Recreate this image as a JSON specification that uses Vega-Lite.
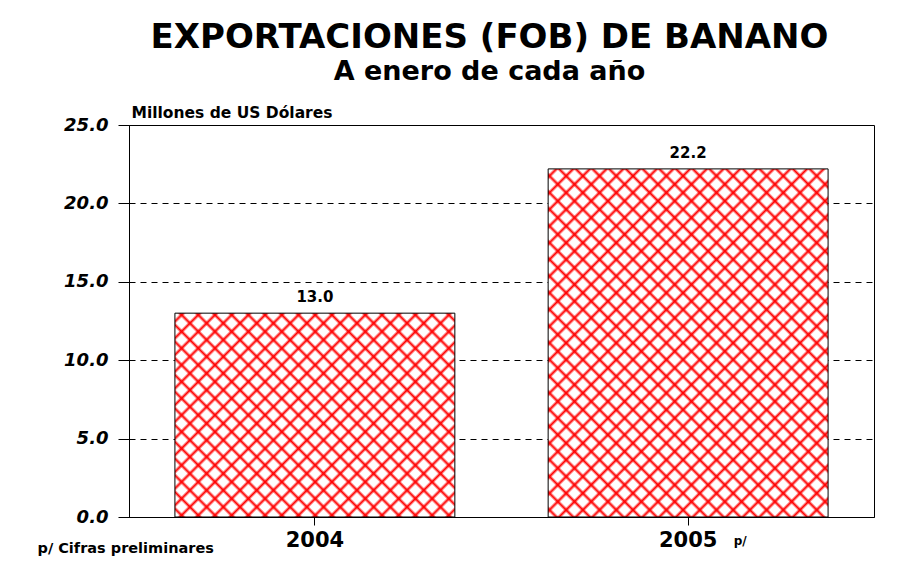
{
  "$schema": "https://vega.github.io/schema/vega-lite/v6.json",
  "width": 745,
  "height": 392,
  "autosize": "none",
  "padding": {"left": 129, "top": 125, "right": 49, "bottom": 60},
  "background": "white",
  "data": {
    "values": [
      {"year": "2004", "value": 13.0},
      {"year": "2005", "value": 22.2}
    ]
  },
  "title": {
    "text": "EXPORTACIONES (FOB) DE BANANO",
    "subtitle": "A enero de cada año",
    "anchor": "middle",
    "frame": "group",
    "dx": -12,
    "offset": 20,
    "font": "DejaVu Sans",
    "fontSize": 34,
    "fontWeight": "bold",
    "color": "black",
    "subtitleFont": "DejaVu Sans",
    "subtitleFontSize": 27,
    "subtitleFontWeight": "bold",
    "subtitleColor": "black",
    "subtitlePadding": 4
  },
  "config": {
    "view": {"stroke": "black", "strokeWidth": 1},
    "axis": {"labelFont": "DejaVu Sans", "titleFont": "DejaVu Sans", "labelColor": "black", "titleColor": "black"}
  },
  "layer": [
    {
      "mark": {"type": "bar", "strokeWidth": 0},
      "encoding": {
        "x": {
          "field": "year",
          "type": "nominal",
          "sort": null,
          "scale": {"paddingInner": 0.25, "paddingOuter": 0.123},
          "axis": {
            "labelAngle": 0,
            "labelFontSize": 21,
            "labelFontWeight": "bold",
            "labelPadding": 4,
            "tickSize": 8,
            "tickColor": "black",
            "domainColor": "black",
            "grid": false,
            "title": "p/ Cifras preliminares",
            "titleFontSize": 14.5,
            "titleFontWeight": "bold",
            "titleAlign": "left",
            "titleBaseline": "alphabetic",
            "titleX": -92,
            "titleY": 35
          }
        },
        "y": {
          "field": "value",
          "type": "quantitative",
          "scale": {"domain": [0, 25], "nice": false},
          "axis": {
            "values": [0, 5, 10, 15, 20, 25],
            "format": ".1f",
            "labelFontSize": 18,
            "labelFontWeight": "bold",
            "labelFontStyle": "italic",
            "labelPadding": 10,
            "tickSize": 11,
            "tickColor": "black",
            "domainColor": "black",
            "grid": true,
            "gridColor": "black",
            "gridDash": [6, 5],
            "gridWidth": 1,
            "title": "Millones de US Dólares",
            "titleAngle": 0,
            "titleFontSize": 15.5,
            "titleFontWeight": "bold",
            "titleAlign": "left",
            "titleBaseline": "alphabetic",
            "titleX": 2,
            "titleY": -8
          }
        },
        "fill": {
          "condition": {
            "test": "datum.year === '2004'",
            "value": {
              "gradient": "linear", "x1": 0, "y1": 0, "x2": 1.1294, "y2": 0.8223,
              "stops": [
                {"offset": 0.0107, "color": "#fff"}, {"offset": 0.0173, "color": "#f00"}, {"offset": 0.0239, "color": "#fff"},
                {"offset": 0.0452, "color": "#fff"}, {"offset": 0.0518, "color": "#f00"}, {"offset": 0.0584, "color": "#fff"},
                {"offset": 0.0797, "color": "#fff"}, {"offset": 0.0863, "color": "#f00"}, {"offset": 0.0929, "color": "#fff"},
                {"offset": 0.1142, "color": "#fff"}, {"offset": 0.1208, "color": "#f00"}, {"offset": 0.1274, "color": "#fff"},
                {"offset": 0.1488, "color": "#fff"}, {"offset": 0.1554, "color": "#f00"}, {"offset": 0.1620, "color": "#fff"},
                {"offset": 0.1833, "color": "#fff"}, {"offset": 0.1899, "color": "#f00"}, {"offset": 0.1965, "color": "#fff"},
                {"offset": 0.2178, "color": "#fff"}, {"offset": 0.2244, "color": "#f00"}, {"offset": 0.2310, "color": "#fff"},
                {"offset": 0.2524, "color": "#fff"}, {"offset": 0.2590, "color": "#f00"}, {"offset": 0.2656, "color": "#fff"},
                {"offset": 0.2869, "color": "#fff"}, {"offset": 0.2935, "color": "#f00"}, {"offset": 0.3001, "color": "#fff"},
                {"offset": 0.3214, "color": "#fff"}, {"offset": 0.3280, "color": "#f00"}, {"offset": 0.3346, "color": "#fff"},
                {"offset": 0.3559, "color": "#fff"}, {"offset": 0.3625, "color": "#f00"}, {"offset": 0.3691, "color": "#fff"},
                {"offset": 0.3905, "color": "#fff"}, {"offset": 0.3971, "color": "#f00"}, {"offset": 0.4037, "color": "#fff"},
                {"offset": 0.4250, "color": "#fff"}, {"offset": 0.4316, "color": "#f00"}, {"offset": 0.4382, "color": "#fff"},
                {"offset": 0.4595, "color": "#fff"}, {"offset": 0.4661, "color": "#f00"}, {"offset": 0.4727, "color": "#fff"},
                {"offset": 0.4940, "color": "#fff"}, {"offset": 0.5006, "color": "#f00"}, {"offset": 0.5072, "color": "#fff"},
                {"offset": 0.5286, "color": "#fff"}, {"offset": 0.5352, "color": "#f00"}, {"offset": 0.5418, "color": "#fff"},
                {"offset": 0.5631, "color": "#fff"}, {"offset": 0.5697, "color": "#f00"}, {"offset": 0.5763, "color": "#fff"},
                {"offset": 0.5976, "color": "#fff"}, {"offset": 0.6042, "color": "#f00"}, {"offset": 0.6108, "color": "#fff"},
                {"offset": 0.6321, "color": "#fff"}, {"offset": 0.6387, "color": "#f00"}, {"offset": 0.6453, "color": "#fff"},
                {"offset": 0.6667, "color": "#fff"}, {"offset": 0.6733, "color": "#f00"}, {"offset": 0.6799, "color": "#fff"},
                {"offset": 0.7012, "color": "#fff"}, {"offset": 0.7078, "color": "#f00"}, {"offset": 0.7144, "color": "#fff"},
                {"offset": 0.7357, "color": "#fff"}, {"offset": 0.7423, "color": "#f00"}, {"offset": 0.7489, "color": "#fff"},
                {"offset": 0.7702, "color": "#fff"}, {"offset": 0.7768, "color": "#f00"}, {"offset": 0.7834, "color": "#fff"},
                {"offset": 0.8048, "color": "#fff"}, {"offset": 0.8114, "color": "#f00"}, {"offset": 0.8180, "color": "#fff"},
                {"offset": 0.8393, "color": "#fff"}, {"offset": 0.8459, "color": "#f00"}, {"offset": 0.8525, "color": "#fff"},
                {"offset": 0.8738, "color": "#fff"}, {"offset": 0.8804, "color": "#f00"}, {"offset": 0.8870, "color": "#fff"},
                {"offset": 0.9083, "color": "#fff"}, {"offset": 0.9149, "color": "#f00"}, {"offset": 0.9215, "color": "#fff"},
                {"offset": 0.9429, "color": "#fff"}, {"offset": 0.9495, "color": "#f00"}, {"offset": 0.9561, "color": "#fff"},
                {"offset": 0.9774, "color": "#fff"}, {"offset": 0.9840, "color": "#f00"}, {"offset": 0.9906, "color": "#fff"}
              ]
            }
          },
          "value": {
            "gradient": "linear", "x1": 0, "y1": 0, "x2": 0.8810, "y2": 1.0957,
            "stops": [
              {"offset": 0.0082, "color": "#fff"}, {"offset": 0.0133, "color": "#f00"}, {"offset": 0.0184, "color": "#fff"},
              {"offset": 0.0348, "color": "#fff"}, {"offset": 0.0399, "color": "#f00"}, {"offset": 0.0450, "color": "#fff"},
              {"offset": 0.0614, "color": "#fff"}, {"offset": 0.0665, "color": "#f00"}, {"offset": 0.0716, "color": "#fff"},
              {"offset": 0.0880, "color": "#fff"}, {"offset": 0.0931, "color": "#f00"}, {"offset": 0.0982, "color": "#fff"},
              {"offset": 0.1146, "color": "#fff"}, {"offset": 0.1197, "color": "#f00"}, {"offset": 0.1248, "color": "#fff"},
              {"offset": 0.1412, "color": "#fff"}, {"offset": 0.1463, "color": "#f00"}, {"offset": 0.1514, "color": "#fff"},
              {"offset": 0.1678, "color": "#fff"}, {"offset": 0.1729, "color": "#f00"}, {"offset": 0.1780, "color": "#fff"},
              {"offset": 0.1943, "color": "#fff"}, {"offset": 0.1994, "color": "#f00"}, {"offset": 0.2045, "color": "#fff"},
              {"offset": 0.2209, "color": "#fff"}, {"offset": 0.2260, "color": "#f00"}, {"offset": 0.2311, "color": "#fff"},
              {"offset": 0.2475, "color": "#fff"}, {"offset": 0.2526, "color": "#f00"}, {"offset": 0.2577, "color": "#fff"},
              {"offset": 0.2741, "color": "#fff"}, {"offset": 0.2792, "color": "#f00"}, {"offset": 0.2843, "color": "#fff"},
              {"offset": 0.3007, "color": "#fff"}, {"offset": 0.3058, "color": "#f00"}, {"offset": 0.3109, "color": "#fff"},
              {"offset": 0.3273, "color": "#fff"}, {"offset": 0.3324, "color": "#f00"}, {"offset": 0.3375, "color": "#fff"},
              {"offset": 0.3539, "color": "#fff"}, {"offset": 0.3590, "color": "#f00"}, {"offset": 0.3641, "color": "#fff"},
              {"offset": 0.3805, "color": "#fff"}, {"offset": 0.3856, "color": "#f00"}, {"offset": 0.3907, "color": "#fff"},
              {"offset": 0.4071, "color": "#fff"}, {"offset": 0.4122, "color": "#f00"}, {"offset": 0.4173, "color": "#fff"},
              {"offset": 0.4337, "color": "#fff"}, {"offset": 0.4388, "color": "#f00"}, {"offset": 0.4439, "color": "#fff"},
              {"offset": 0.4603, "color": "#fff"}, {"offset": 0.4654, "color": "#f00"}, {"offset": 0.4705, "color": "#fff"},
              {"offset": 0.4869, "color": "#fff"}, {"offset": 0.4920, "color": "#f00"}, {"offset": 0.4971, "color": "#fff"},
              {"offset": 0.5134, "color": "#fff"}, {"offset": 0.5185, "color": "#f00"}, {"offset": 0.5236, "color": "#fff"},
              {"offset": 0.5400, "color": "#fff"}, {"offset": 0.5451, "color": "#f00"}, {"offset": 0.5502, "color": "#fff"},
              {"offset": 0.5666, "color": "#fff"}, {"offset": 0.5717, "color": "#f00"}, {"offset": 0.5768, "color": "#fff"},
              {"offset": 0.5932, "color": "#fff"}, {"offset": 0.5983, "color": "#f00"}, {"offset": 0.6034, "color": "#fff"},
              {"offset": 0.6198, "color": "#fff"}, {"offset": 0.6249, "color": "#f00"}, {"offset": 0.6300, "color": "#fff"},
              {"offset": 0.6464, "color": "#fff"}, {"offset": 0.6515, "color": "#f00"}, {"offset": 0.6566, "color": "#fff"},
              {"offset": 0.6730, "color": "#fff"}, {"offset": 0.6781, "color": "#f00"}, {"offset": 0.6832, "color": "#fff"},
              {"offset": 0.6996, "color": "#fff"}, {"offset": 0.7047, "color": "#f00"}, {"offset": 0.7098, "color": "#fff"},
              {"offset": 0.7262, "color": "#fff"}, {"offset": 0.7313, "color": "#f00"}, {"offset": 0.7364, "color": "#fff"},
              {"offset": 0.7528, "color": "#fff"}, {"offset": 0.7579, "color": "#f00"}, {"offset": 0.7630, "color": "#fff"},
              {"offset": 0.7794, "color": "#fff"}, {"offset": 0.7845, "color": "#f00"}, {"offset": 0.7896, "color": "#fff"},
              {"offset": 0.8060, "color": "#fff"}, {"offset": 0.8111, "color": "#f00"}, {"offset": 0.8162, "color": "#fff"},
              {"offset": 0.8326, "color": "#fff"}, {"offset": 0.8377, "color": "#f00"}, {"offset": 0.8428, "color": "#fff"},
              {"offset": 0.8591, "color": "#fff"}, {"offset": 0.8642, "color": "#f00"}, {"offset": 0.8693, "color": "#fff"},
              {"offset": 0.8857, "color": "#fff"}, {"offset": 0.8908, "color": "#f00"}, {"offset": 0.8959, "color": "#fff"},
              {"offset": 0.9123, "color": "#fff"}, {"offset": 0.9174, "color": "#f00"}, {"offset": 0.9225, "color": "#fff"},
              {"offset": 0.9389, "color": "#fff"}, {"offset": 0.9440, "color": "#f00"}, {"offset": 0.9491, "color": "#fff"},
              {"offset": 0.9655, "color": "#fff"}, {"offset": 0.9706, "color": "#f00"}, {"offset": 0.9757, "color": "#fff"}
            ]
          }
        }
      }
    },
    {
      "mark": {"type": "bar", "stroke": "black", "strokeWidth": 1},
      "encoding": {
        "x": {"field": "year", "type": "nominal", "sort": null, "axis": null},
        "y": {"field": "value", "type": "quantitative", "axis": null},
        "fill": {
          "condition": {
            "test": "datum.year === '2004'",
            "value": {
              "gradient": "linear", "x1": 0, "y1": 1, "x2": 1.1294, "y2": 0.1777,
              "stops": [
                {"offset": 0.0107, "color": "rgba(255,0,0,0)"}, {"offset": 0.0173, "color": "#f00"}, {"offset": 0.0239, "color": "rgba(255,0,0,0)"},
                {"offset": 0.0452, "color": "rgba(255,0,0,0)"}, {"offset": 0.0518, "color": "#f00"}, {"offset": 0.0584, "color": "rgba(255,0,0,0)"},
                {"offset": 0.0797, "color": "rgba(255,0,0,0)"}, {"offset": 0.0863, "color": "#f00"}, {"offset": 0.0929, "color": "rgba(255,0,0,0)"},
                {"offset": 0.1142, "color": "rgba(255,0,0,0)"}, {"offset": 0.1208, "color": "#f00"}, {"offset": 0.1274, "color": "rgba(255,0,0,0)"},
                {"offset": 0.1488, "color": "rgba(255,0,0,0)"}, {"offset": 0.1554, "color": "#f00"}, {"offset": 0.1620, "color": "rgba(255,0,0,0)"},
                {"offset": 0.1833, "color": "rgba(255,0,0,0)"}, {"offset": 0.1899, "color": "#f00"}, {"offset": 0.1965, "color": "rgba(255,0,0,0)"},
                {"offset": 0.2178, "color": "rgba(255,0,0,0)"}, {"offset": 0.2244, "color": "#f00"}, {"offset": 0.2310, "color": "rgba(255,0,0,0)"},
                {"offset": 0.2524, "color": "rgba(255,0,0,0)"}, {"offset": 0.2590, "color": "#f00"}, {"offset": 0.2656, "color": "rgba(255,0,0,0)"},
                {"offset": 0.2869, "color": "rgba(255,0,0,0)"}, {"offset": 0.2935, "color": "#f00"}, {"offset": 0.3001, "color": "rgba(255,0,0,0)"},
                {"offset": 0.3214, "color": "rgba(255,0,0,0)"}, {"offset": 0.3280, "color": "#f00"}, {"offset": 0.3346, "color": "rgba(255,0,0,0)"},
                {"offset": 0.3559, "color": "rgba(255,0,0,0)"}, {"offset": 0.3625, "color": "#f00"}, {"offset": 0.3691, "color": "rgba(255,0,0,0)"},
                {"offset": 0.3905, "color": "rgba(255,0,0,0)"}, {"offset": 0.3971, "color": "#f00"}, {"offset": 0.4037, "color": "rgba(255,0,0,0)"},
                {"offset": 0.4250, "color": "rgba(255,0,0,0)"}, {"offset": 0.4316, "color": "#f00"}, {"offset": 0.4382, "color": "rgba(255,0,0,0)"},
                {"offset": 0.4595, "color": "rgba(255,0,0,0)"}, {"offset": 0.4661, "color": "#f00"}, {"offset": 0.4727, "color": "rgba(255,0,0,0)"},
                {"offset": 0.4940, "color": "rgba(255,0,0,0)"}, {"offset": 0.5006, "color": "#f00"}, {"offset": 0.5072, "color": "rgba(255,0,0,0)"},
                {"offset": 0.5286, "color": "rgba(255,0,0,0)"}, {"offset": 0.5352, "color": "#f00"}, {"offset": 0.5418, "color": "rgba(255,0,0,0)"},
                {"offset": 0.5631, "color": "rgba(255,0,0,0)"}, {"offset": 0.5697, "color": "#f00"}, {"offset": 0.5763, "color": "rgba(255,0,0,0)"},
                {"offset": 0.5976, "color": "rgba(255,0,0,0)"}, {"offset": 0.6042, "color": "#f00"}, {"offset": 0.6108, "color": "rgba(255,0,0,0)"},
                {"offset": 0.6321, "color": "rgba(255,0,0,0)"}, {"offset": 0.6387, "color": "#f00"}, {"offset": 0.6453, "color": "rgba(255,0,0,0)"},
                {"offset": 0.6667, "color": "rgba(255,0,0,0)"}, {"offset": 0.6733, "color": "#f00"}, {"offset": 0.6799, "color": "rgba(255,0,0,0)"},
                {"offset": 0.7012, "color": "rgba(255,0,0,0)"}, {"offset": 0.7078, "color": "#f00"}, {"offset": 0.7144, "color": "rgba(255,0,0,0)"},
                {"offset": 0.7357, "color": "rgba(255,0,0,0)"}, {"offset": 0.7423, "color": "#f00"}, {"offset": 0.7489, "color": "rgba(255,0,0,0)"},
                {"offset": 0.7702, "color": "rgba(255,0,0,0)"}, {"offset": 0.7768, "color": "#f00"}, {"offset": 0.7834, "color": "rgba(255,0,0,0)"},
                {"offset": 0.8048, "color": "rgba(255,0,0,0)"}, {"offset": 0.8114, "color": "#f00"}, {"offset": 0.8180, "color": "rgba(255,0,0,0)"},
                {"offset": 0.8393, "color": "rgba(255,0,0,0)"}, {"offset": 0.8459, "color": "#f00"}, {"offset": 0.8525, "color": "rgba(255,0,0,0)"},
                {"offset": 0.8738, "color": "rgba(255,0,0,0)"}, {"offset": 0.8804, "color": "#f00"}, {"offset": 0.8870, "color": "rgba(255,0,0,0)"},
                {"offset": 0.9083, "color": "rgba(255,0,0,0)"}, {"offset": 0.9149, "color": "#f00"}, {"offset": 0.9215, "color": "rgba(255,0,0,0)"},
                {"offset": 0.9429, "color": "rgba(255,0,0,0)"}, {"offset": 0.9495, "color": "#f00"}, {"offset": 0.9561, "color": "rgba(255,0,0,0)"},
                {"offset": 0.9774, "color": "rgba(255,0,0,0)"}, {"offset": 0.9840, "color": "#f00"}, {"offset": 0.9906, "color": "rgba(255,0,0,0)"}
              ]
            }
          },
          "value": {
            "gradient": "linear", "x1": 0, "y1": 1, "x2": 0.8810, "y2": -0.0957,
            "stops": [
              {"offset": 0.0082, "color": "rgba(255,0,0,0)"}, {"offset": 0.0133, "color": "#f00"}, {"offset": 0.0184, "color": "rgba(255,0,0,0)"},
              {"offset": 0.0348, "color": "rgba(255,0,0,0)"}, {"offset": 0.0399, "color": "#f00"}, {"offset": 0.0450, "color": "rgba(255,0,0,0)"},
              {"offset": 0.0614, "color": "rgba(255,0,0,0)"}, {"offset": 0.0665, "color": "#f00"}, {"offset": 0.0716, "color": "rgba(255,0,0,0)"},
              {"offset": 0.0880, "color": "rgba(255,0,0,0)"}, {"offset": 0.0931, "color": "#f00"}, {"offset": 0.0982, "color": "rgba(255,0,0,0)"},
              {"offset": 0.1146, "color": "rgba(255,0,0,0)"}, {"offset": 0.1197, "color": "#f00"}, {"offset": 0.1248, "color": "rgba(255,0,0,0)"},
              {"offset": 0.1412, "color": "rgba(255,0,0,0)"}, {"offset": 0.1463, "color": "#f00"}, {"offset": 0.1514, "color": "rgba(255,0,0,0)"},
              {"offset": 0.1678, "color": "rgba(255,0,0,0)"}, {"offset": 0.1729, "color": "#f00"}, {"offset": 0.1780, "color": "rgba(255,0,0,0)"},
              {"offset": 0.1943, "color": "rgba(255,0,0,0)"}, {"offset": 0.1994, "color": "#f00"}, {"offset": 0.2045, "color": "rgba(255,0,0,0)"},
              {"offset": 0.2209, "color": "rgba(255,0,0,0)"}, {"offset": 0.2260, "color": "#f00"}, {"offset": 0.2311, "color": "rgba(255,0,0,0)"},
              {"offset": 0.2475, "color": "rgba(255,0,0,0)"}, {"offset": 0.2526, "color": "#f00"}, {"offset": 0.2577, "color": "rgba(255,0,0,0)"},
              {"offset": 0.2741, "color": "rgba(255,0,0,0)"}, {"offset": 0.2792, "color": "#f00"}, {"offset": 0.2843, "color": "rgba(255,0,0,0)"},
              {"offset": 0.3007, "color": "rgba(255,0,0,0)"}, {"offset": 0.3058, "color": "#f00"}, {"offset": 0.3109, "color": "rgba(255,0,0,0)"},
              {"offset": 0.3273, "color": "rgba(255,0,0,0)"}, {"offset": 0.3324, "color": "#f00"}, {"offset": 0.3375, "color": "rgba(255,0,0,0)"},
              {"offset": 0.3539, "color": "rgba(255,0,0,0)"}, {"offset": 0.3590, "color": "#f00"}, {"offset": 0.3641, "color": "rgba(255,0,0,0)"},
              {"offset": 0.3805, "color": "rgba(255,0,0,0)"}, {"offset": 0.3856, "color": "#f00"}, {"offset": 0.3907, "color": "rgba(255,0,0,0)"},
              {"offset": 0.4071, "color": "rgba(255,0,0,0)"}, {"offset": 0.4122, "color": "#f00"}, {"offset": 0.4173, "color": "rgba(255,0,0,0)"},
              {"offset": 0.4337, "color": "rgba(255,0,0,0)"}, {"offset": 0.4388, "color": "#f00"}, {"offset": 0.4439, "color": "rgba(255,0,0,0)"},
              {"offset": 0.4603, "color": "rgba(255,0,0,0)"}, {"offset": 0.4654, "color": "#f00"}, {"offset": 0.4705, "color": "rgba(255,0,0,0)"},
              {"offset": 0.4869, "color": "rgba(255,0,0,0)"}, {"offset": 0.4920, "color": "#f00"}, {"offset": 0.4971, "color": "rgba(255,0,0,0)"},
              {"offset": 0.5134, "color": "rgba(255,0,0,0)"}, {"offset": 0.5185, "color": "#f00"}, {"offset": 0.5236, "color": "rgba(255,0,0,0)"},
              {"offset": 0.5400, "color": "rgba(255,0,0,0)"}, {"offset": 0.5451, "color": "#f00"}, {"offset": 0.5502, "color": "rgba(255,0,0,0)"},
              {"offset": 0.5666, "color": "rgba(255,0,0,0)"}, {"offset": 0.5717, "color": "#f00"}, {"offset": 0.5768, "color": "rgba(255,0,0,0)"},
              {"offset": 0.5932, "color": "rgba(255,0,0,0)"}, {"offset": 0.5983, "color": "#f00"}, {"offset": 0.6034, "color": "rgba(255,0,0,0)"},
              {"offset": 0.6198, "color": "rgba(255,0,0,0)"}, {"offset": 0.6249, "color": "#f00"}, {"offset": 0.6300, "color": "rgba(255,0,0,0)"},
              {"offset": 0.6464, "color": "rgba(255,0,0,0)"}, {"offset": 0.6515, "color": "#f00"}, {"offset": 0.6566, "color": "rgba(255,0,0,0)"},
              {"offset": 0.6730, "color": "rgba(255,0,0,0)"}, {"offset": 0.6781, "color": "#f00"}, {"offset": 0.6832, "color": "rgba(255,0,0,0)"},
              {"offset": 0.6996, "color": "rgba(255,0,0,0)"}, {"offset": 0.7047, "color": "#f00"}, {"offset": 0.7098, "color": "rgba(255,0,0,0)"},
              {"offset": 0.7262, "color": "rgba(255,0,0,0)"}, {"offset": 0.7313, "color": "#f00"}, {"offset": 0.7364, "color": "rgba(255,0,0,0)"},
              {"offset": 0.7528, "color": "rgba(255,0,0,0)"}, {"offset": 0.7579, "color": "#f00"}, {"offset": 0.7630, "color": "rgba(255,0,0,0)"},
              {"offset": 0.7794, "color": "rgba(255,0,0,0)"}, {"offset": 0.7845, "color": "#f00"}, {"offset": 0.7896, "color": "rgba(255,0,0,0)"},
              {"offset": 0.8060, "color": "rgba(255,0,0,0)"}, {"offset": 0.8111, "color": "#f00"}, {"offset": 0.8162, "color": "rgba(255,0,0,0)"},
              {"offset": 0.8326, "color": "rgba(255,0,0,0)"}, {"offset": 0.8377, "color": "#f00"}, {"offset": 0.8428, "color": "rgba(255,0,0,0)"},
              {"offset": 0.8591, "color": "rgba(255,0,0,0)"}, {"offset": 0.8642, "color": "#f00"}, {"offset": 0.8693, "color": "rgba(255,0,0,0)"},
              {"offset": 0.8857, "color": "rgba(255,0,0,0)"}, {"offset": 0.8908, "color": "#f00"}, {"offset": 0.8959, "color": "rgba(255,0,0,0)"},
              {"offset": 0.9123, "color": "rgba(255,0,0,0)"}, {"offset": 0.9174, "color": "#f00"}, {"offset": 0.9225, "color": "rgba(255,0,0,0)"},
              {"offset": 0.9389, "color": "rgba(255,0,0,0)"}, {"offset": 0.9440, "color": "#f00"}, {"offset": 0.9491, "color": "rgba(255,0,0,0)"},
              {"offset": 0.9655, "color": "rgba(255,0,0,0)"}, {"offset": 0.9706, "color": "#f00"}, {"offset": 0.9757, "color": "rgba(255,0,0,0)"}
            ]
          }
        }
      }
    },
    {
      "mark": {"type": "text", "dy": -8, "baseline": "bottom", "font": "DejaVu Sans", "fontSize": 15, "fontWeight": "bold", "color": "black"},
      "encoding": {
        "x": {
          "field": "year",
          "type": "nominal",
          "sort": null,
          "axis": {
            "orient": "bottom",
            "labelExpr": "datum.value == '2005' ? 'p/' : ''",
            "labelAngle": 0,
            "labelFontSize": 12,
            "labelFontWeight": "bold",
            "labelOffset": 52,
            "labelPadding": 18,
            "ticks": false,
            "domain": false,
            "grid": false,
            "title": null
          }
        },
        "y": {"field": "value", "type": "quantitative", "axis": null},
        "text": {"field": "value", "type": "quantitative", "format": ".1f"}
      }
    }
  ],
  "resolve": {"axis": {"x": "independent", "y": "independent"}}
}
